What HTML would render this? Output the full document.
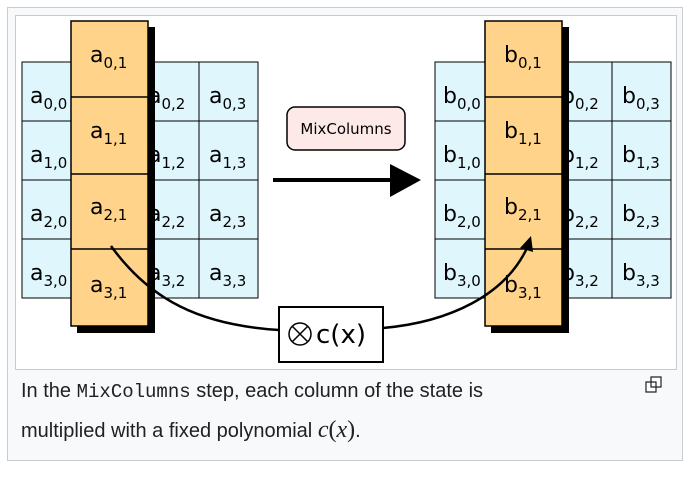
<!DOCTYPE html>
<html><head><style>
body{margin:0;width:700px;height:477px;background:#fff;font-family:"Liberation Sans",sans-serif;position:relative;overflow:hidden}
.outer{position:absolute;left:7px;top:7px;width:676px;height:454px;background:#f8f9fa;border:1px solid #c8ccd1;box-sizing:border-box}
.inner{position:absolute;left:15px;top:15px;width:662px;height:355px;background:#fff;border:1px solid #c8ccd1;box-sizing:border-box}
.cap{position:absolute;left:21px;font-size:20px;color:#202122}
</style></head><body>
<div class="outer"></div>
<div class="inner"></div>
<svg width="700" height="477" style="position:absolute;left:0;top:0" font-family="DejaVu Sans, sans-serif">
<g id="L">
<rect x="22" y="62" width="236" height="236" fill="#dff6fd" stroke="#000" stroke-width="1"/>
<path d="M81 62V298M140 62V298M199 62V298M22 121H258M22 180H258M22 239H258" stroke="#000" stroke-width="1"/>
</g>
<g transform="translate(413,0)">
<rect x="22" y="62" width="236" height="236" fill="#dff6fd" stroke="#000" stroke-width="1"/>
<path d="M81 62V298M140 62V298M199 62V298M22 121H258M22 180H258M22 239H258" stroke="#000" stroke-width="1"/>
</g>
<g font-size="22" fill="#000">
<text x="30" y="103">a<tspan font-size="15" dy="6">0,0</tspan></text>
<text x="30" y="162">a<tspan font-size="15" dy="6">1,0</tspan></text>
<text x="30" y="221">a<tspan font-size="15" dy="6">2,0</tspan></text>
<text x="30" y="280">a<tspan font-size="15" dy="6">3,0</tspan></text>
<text x="148" y="103">a<tspan font-size="15" dy="6">0,2</tspan></text>
<text x="148" y="162">a<tspan font-size="15" dy="6">1,2</tspan></text>
<text x="148" y="221">a<tspan font-size="15" dy="6">2,2</tspan></text>
<text x="148" y="280">a<tspan font-size="15" dy="6">3,2</tspan></text>
<text x="209" y="103">a<tspan font-size="15" dy="6">0,3</tspan></text>
<text x="209" y="162">a<tspan font-size="15" dy="6">1,3</tspan></text>
<text x="209" y="221">a<tspan font-size="15" dy="6">2,3</tspan></text>
<text x="209" y="280">a<tspan font-size="15" dy="6">3,3</tspan></text>
<text x="443" y="103">b<tspan font-size="15" dy="6">0,0</tspan></text>
<text x="443" y="162">b<tspan font-size="15" dy="6">1,0</tspan></text>
<text x="443" y="221">b<tspan font-size="15" dy="6">2,0</tspan></text>
<text x="443" y="280">b<tspan font-size="15" dy="6">3,0</tspan></text>
<text x="561" y="103">b<tspan font-size="15" dy="6">0,2</tspan></text>
<text x="561" y="162">b<tspan font-size="15" dy="6">1,2</tspan></text>
<text x="561" y="221">b<tspan font-size="15" dy="6">2,2</tspan></text>
<text x="561" y="280">b<tspan font-size="15" dy="6">3,2</tspan></text>
<text x="622" y="103">b<tspan font-size="15" dy="6">0,3</tspan></text>
<text x="622" y="162">b<tspan font-size="15" dy="6">1,3</tspan></text>
<text x="622" y="221">b<tspan font-size="15" dy="6">2,3</tspan></text>
<text x="622" y="280">b<tspan font-size="15" dy="6">3,3</tspan></text>
</g>
<rect x="77" y="27" width="78" height="306" fill="#000"/>
<rect x="71" y="21" width="77" height="305" fill="#ffd38a" stroke="#000" stroke-width="1.5"/>
<path d="M71 97H148M71 174H148M71 249H148" stroke="#000" stroke-width="1.5"/>
<rect x="491" y="27" width="78" height="306" fill="#000"/>
<rect x="485" y="21" width="77" height="305" fill="#ffd38a" stroke="#000" stroke-width="1.5"/>
<path d="M485 97H562M485 174H562M485 249H562" stroke="#000" stroke-width="1.5"/>
<g font-size="22" fill="#000">
<text x="90" y="62">a<tspan font-size="15" dy="6">0,1</tspan></text>
<text x="90" y="138">a<tspan font-size="15" dy="6">1,1</tspan></text>
<text x="90" y="214">a<tspan font-size="15" dy="6">2,1</tspan></text>
<text x="90" y="292">a<tspan font-size="15" dy="6">3,1</tspan></text>
<text x="504" y="62">b<tspan font-size="15" dy="6">0,1</tspan></text>
<text x="504" y="138">b<tspan font-size="15" dy="6">1,1</tspan></text>
<text x="504" y="214">b<tspan font-size="15" dy="6">2,1</tspan></text>
<text x="504" y="292">b<tspan font-size="15" dy="6">3,1</tspan></text>
</g>
<rect x="287" y="107" width="118" height="43" rx="8" fill="#fde9e7" stroke="#000" stroke-width="1.5"/>
<text x="346" y="134" font-size="15" text-anchor="middle">MixColumns</text>
<path d="M273 180H392" stroke="#000" stroke-width="4"/>
<path d="M390 164L421 180L390 197Z" fill="#000"/>
<path d="M111 246C150 300 200 325 279 330" fill="none" stroke="#000" stroke-width="2.5"/>
<path d="M383 328C450 322 505 295 527 248" fill="none" stroke="#000" stroke-width="2.5"/>
<path d="M520 248L531 236L533 252Z" fill="#000"/>
<rect x="279" y="307" width="104" height="55" fill="#fff" stroke="#000" stroke-width="2"/>
<circle cx="300" cy="334" r="11" fill="none" stroke="#000" stroke-width="1.5"/>
<path d="M292 326L308 342M308 326L292 342" stroke="#000" stroke-width="1.5"/>
<text x="316" y="343" font-size="26">c(x)</text>
<path d="M651 377h10v10h-10zM646 382h10v10h-10z" fill="#fff" stroke="#202122" stroke-width="1.2"/>
</svg>
<div class="cap" style="top:380px">In the <span style="font-family:'Liberation Mono',monospace;font-size:19px">MixColumns</span> step, each column of the state is</div>
<div class="cap" style="top:417px">multiplied with a fixed polynomial <i style="font-family:'Liberation Serif',serif;font-size:24px">c</i><span style="font-family:'Liberation Serif',serif;font-size:24px">(</span><i style="font-family:'Liberation Serif',serif;font-size:24px">x</i><span style="font-family:'Liberation Serif',serif;font-size:24px">)</span>.</div>
</body></html>
